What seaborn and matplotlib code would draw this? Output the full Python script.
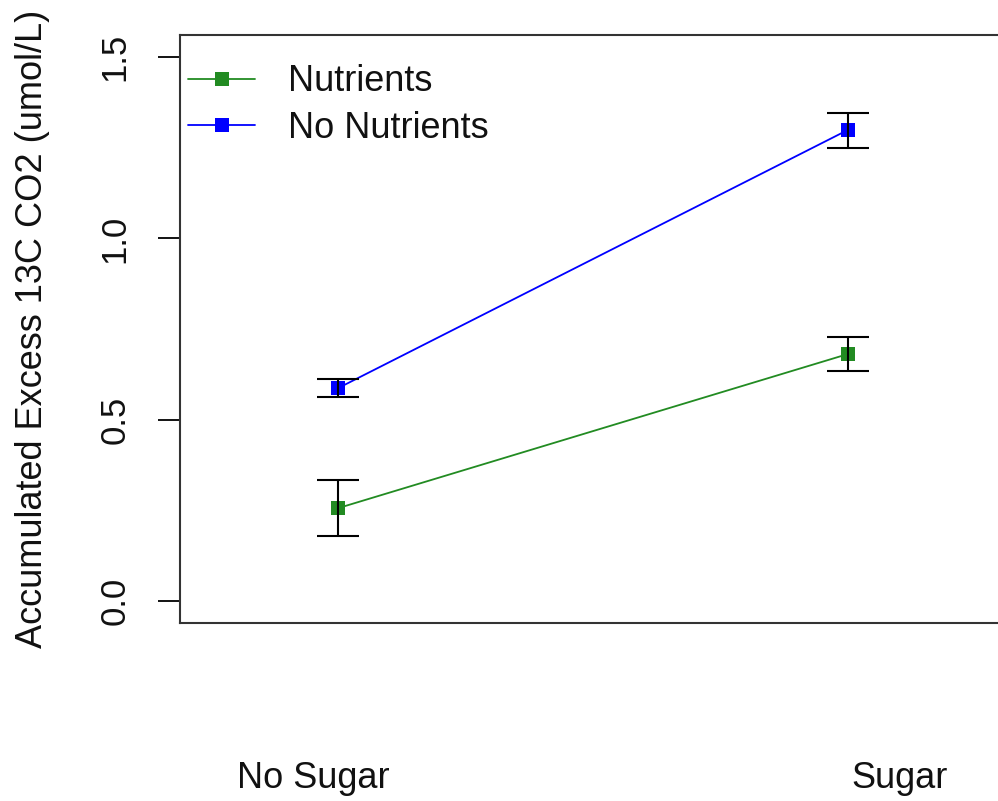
import matplotlib
matplotlib.use("Agg")
import matplotlib.pyplot as plt
import seaborn as sns
import pandas as pd
from matplotlib.lines import Line2D

# Treatment levels and measured means / error bounds
sugar_levels = ["No Sugar", "Sugar"]
series_names = ["Nutrients", "No Nutrients"]
nutrients_mean = [0.256, 0.681]
nutrients_low = [0.179, 0.634]
nutrients_high = [0.334, 0.728]
no_nutrients_mean = [0.587, 1.299]
no_nutrients_low = [0.562, 1.249]
no_nutrients_high = [0.612, 1.345]
y_ticks = [0.0, 0.5, 1.0, 1.5]
y_label = "Accumulated Excess 13C CO2 (umol/L)"
colors = {"Nutrients": "#228B22", "No Nutrients": "#0000FF"}

sns.set_style("white")
plt.rcParams["font.family"] = ["Liberation Sans", "DejaVu Sans"]
plt.rcParams["text.color"] = "#111111"
plt.rcParams["axes.labelcolor"] = "#111111"
plt.rcParams["ytick.color"] = "#111111"
FS = 26

rows = []
for name, means, lows, highs in [
    ("Nutrients", nutrients_mean, nutrients_low, nutrients_high),
    ("No Nutrients", no_nutrients_mean, no_nutrients_low, no_nutrients_high),
]:
    for i, lvl in enumerate(sugar_levels):
        rows.append({"pos": i, "sugar": lvl, "series": name,
                     "mean": means[i], "low": lows[i], "high": highs[i]})
df = pd.DataFrame(rows)

fig = plt.figure(figsize=(9.98, 8.01), dpi=100)
ax = fig.add_axes([180 / 998, (801 - 623) / 801, 836 / 998, 588 / 801])

sns.lineplot(data=df, x="pos", y="mean", hue="series", palette=colors,
             hue_order=series_names, marker="s", markersize=10.5,
             markeredgewidth=0, linewidth=1.3, legend=False, ax=ax,
             errorbar=None, sort=True)

for name in series_names:
    sub = df[df["series"] == name]
    ax.errorbar(sub["pos"], sub["mean"],
                yerr=[sub["mean"] - sub["low"], sub["high"] - sub["mean"]],
                fmt="none", ecolor="black", elinewidth=1.5, capsize=15,
                capthick=1.5, zorder=5)

ax.set_xlim(-0.31, 1.33)
ax.set_ylim(-0.0607, 1.561)
ax.set_xticks([])
ax.set_yticks(y_ticks)
ax.set_yticklabels([f"{t:.1f}" for t in y_ticks], rotation=90, va="center",
                   fontsize=FS - 1)
ax.tick_params(axis="y", length=16, width=1.3, color="black", pad=19,
               left=True)
ax.set_xlabel("")
ax.set_ylabel(y_label, fontsize=FS)
ax.yaxis.set_label_coords(-0.1556, 0.5)
for s in ax.spines.values():
    s.set_color("#333333")
    s.set_linewidth(1.5)

handles = [Line2D([], [], color=colors[n], marker="s", markersize=10.5,
                  markeredgewidth=0, linewidth=1.3) for n in series_names]
ax.legend(handles, series_names, loc="upper left", frameon=False,
          fontsize=FS, handlelength=1.86, handletextpad=0.9,
          borderaxespad=0, borderpad=0, labelspacing=0.31,
          bbox_to_anchor=(8 / 836, 0.950))

fig.text(313 / 998, 1 - 778 / 801, sugar_levels[0], ha="center",
         va="center", fontsize=FS)
fig.text(900 / 998, 1 - 778 / 801, sugar_levels[1], ha="center",
         va="center", fontsize=FS)

fig.savefig("out.png", dpi=100, facecolor="white")
